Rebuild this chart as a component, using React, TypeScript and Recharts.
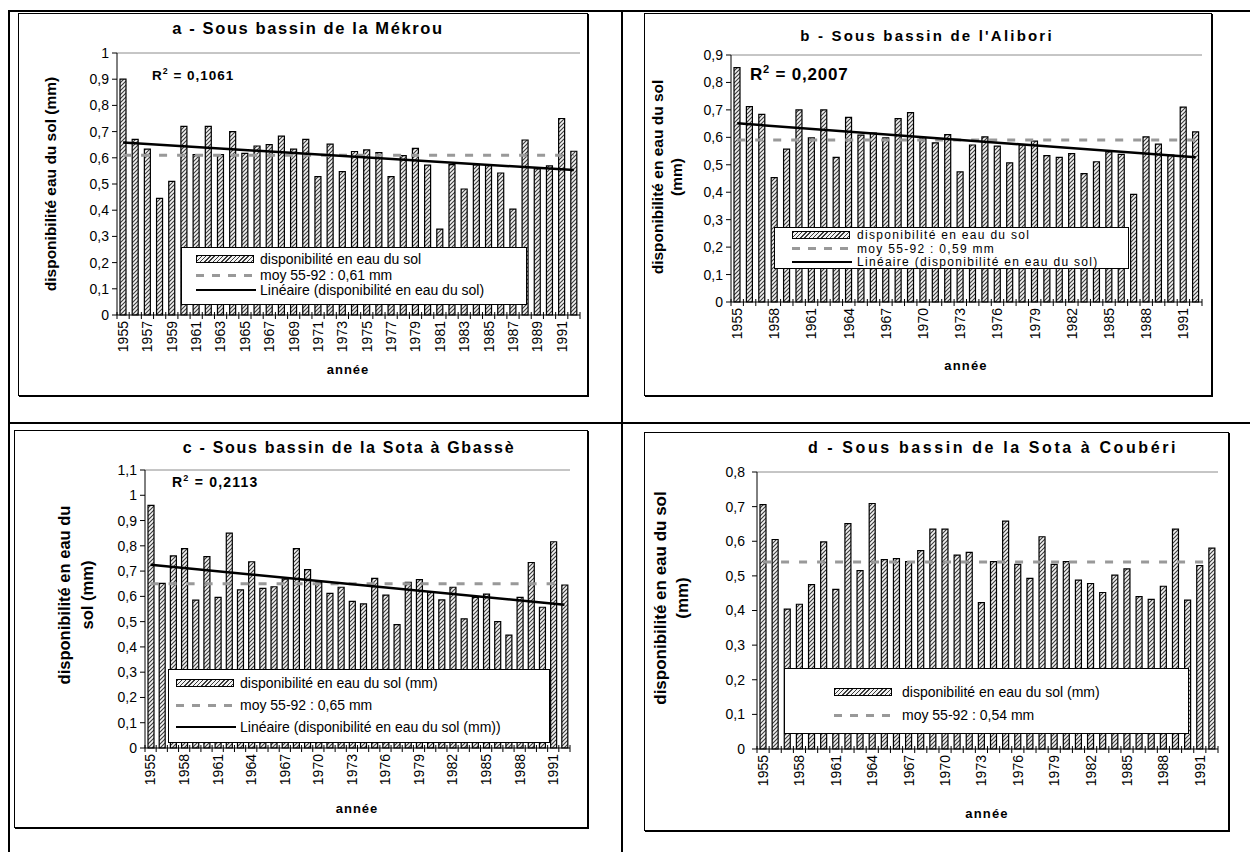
import React from 'react';
import { ComposedChart, Bar, Line, XAxis, YAxis, ReferenceLine } from 'recharts';

// années 1955-1992
const years = [
  '1955', '1956', '1957', '1958', '1959', '1960', '1961', '1962', '1963', '1964',
  '1965', '1966', '1967', '1968', '1969', '1970', '1971', '1972', '1973', '1974',
  '1975', '1976', '1977', '1978', '1979', '1980', '1981', '1982', '1983', '1984',
  '1985', '1986', '1987', '1988', '1989', '1990', '1991', '1992',
];

// disponibilité en eau du sol (mm)
const dispoMekrou = [
  0.90, 0.67, 0.633, 0.445, 0.51, 0.72, 0.612, 0.72, 0.612, 0.70,
  0.617, 0.645, 0.65, 0.683, 0.633, 0.67, 0.528, 0.652, 0.547, 0.624,
  0.63, 0.62, 0.528, 0.608, 0.636, 0.572, 0.328, 0.574, 0.481, 0.573,
  0.57, 0.542, 0.404, 0.668, 0.558, 0.569, 0.75, 0.625,
];
const dispoAlibori = [
  0.854, 0.712, 0.684, 0.453, 0.557, 0.70, 0.598, 0.70, 0.527, 0.673,
  0.608, 0.615, 0.598, 0.668, 0.69, 0.598, 0.58, 0.61, 0.474, 0.572,
  0.602, 0.568, 0.507, 0.572, 0.586, 0.533, 0.527, 0.541, 0.468, 0.511,
  0.547, 0.538, 0.392, 0.602, 0.575, 0.535, 0.71, 0.62,
];
const dispoGbasse = [
  0.96, 0.651, 0.76, 0.789, 0.585, 0.757, 0.596, 0.85, 0.626, 0.737,
  0.632, 0.638, 0.668, 0.789, 0.706, 0.655, 0.612, 0.636, 0.58, 0.57,
  0.671, 0.605, 0.488, 0.655, 0.666, 0.616, 0.586, 0.636, 0.511, 0.596,
  0.609, 0.50, 0.447, 0.596, 0.734, 0.557, 0.816, 0.645,
];
const dispoCouberi = [
  0.706, 0.605, 0.404, 0.418, 0.475, 0.598, 0.461, 0.651, 0.515, 0.709,
  0.547, 0.55, 0.541, 0.573, 0.635, 0.635, 0.56, 0.568, 0.423, 0.541,
  0.658, 0.533, 0.493, 0.613, 0.533, 0.541, 0.488, 0.478, 0.452, 0.502,
  0.52, 0.44, 0.432, 0.47, 0.635, 0.43, 0.53, 0.58,
];

// moyennes 55-92
const moyMekrou = 0.61;
const moyAlibori = 0.59;
const moyGbasse = 0.65;
const moyCouberi = 0.54;

// tendance linéaire : valeur en 1955 et en 1992
const trendMekrou = [0.658, 0.553];
const trendAlibori = [0.651, 0.527];
const trendGbasse = [0.725, 0.567];

const ticksMekrou = [0, 0.1, 0.2, 0.3, 0.4, 0.5, 0.6, 0.7, 0.8, 0.9, 1];
const ticksAlibori = [0, 0.1, 0.2, 0.3, 0.4, 0.5, 0.6, 0.7, 0.8, 0.9];
const ticksGbasse = [0, 0.1, 0.2, 0.3, 0.4, 0.5, 0.6, 0.7, 0.8, 0.9, 1, 1.1];
const ticksCouberi = [0, 0.1, 0.2, 0.3, 0.4, 0.5, 0.6, 0.7, 0.8];

const labelsOdd = ['1955', '1957', '1959', '1961', '1963', '1965', '1967', '1969', '1971', '1973',
  '1975', '1977', '1979', '1981', '1983', '1985', '1987', '1989', '1991'];
const labelsThree = ['1955', '1958', '1961', '1964', '1967', '1970', '1973', '1976', '1979', '1982',
  '1985', '1988', '1991'];

const FONT = "Arial, 'Liberation Sans', sans-serif";

const fmt = (v: number) => String(v).replace('.', ',');

const buildRows = (values: number[], moy: number, trend?: number[]) =>
  years.map((y, i) => ({
    year: y,
    dispo: values[i],
    moy,
    trend: trend ? (i === 0 ? trend[0] : i === years.length - 1 ? trend[1] : null) : null,
  }));

type Rect = { l: number; t: number; r: number; b: number };

const YearTick = (props: any) => {
  const { x, y, payload, index, step, labels, fontSize } = props;
  const show = labels.includes(payload.value);
  const ty = y + 6;
  return (
    <g>
      <line x1={x - step / 2} x2={x - step / 2} y1={y - 3} y2={y + 4} stroke="#000" />
      {index === years.length - 1 && (
        <line x1={x + step / 2} x2={x + step / 2} y1={y - 3} y2={y + 4} stroke="#000" />
      )}
      {show && (
        <text
          x={x}
          y={ty}
          transform={`rotate(-90, ${x}, ${ty})`}
          textAnchor="end"
          dy="0.35em"
          fontSize={fontSize}
          fontFamily={FONT}
          fill="#000"
        >
          {payload.value}
        </text>
      )}
    </g>
  );
};

interface PanelProps {
  id: string;
  frame: Rect;
  plot: Rect;
  values: number[];
  moy: number;
  trend?: number[];
  yTicks: number[];
  xLabels: string[];
  yTickMargin?: number;
}

const Panel = ({ id, frame, plot, values, moy, trend, yTicks, xLabels, yTickMargin = 3 }: PanelProps) => {
  const width = frame.r - frame.l;
  const height = frame.b - frame.t;
  const data = buildRows(values, moy, trend);
  const yMax = yTicks[yTicks.length - 1];
  const step = (plot.r - plot.l) / years.length;
  return (
    <div
      style={{
        position: 'absolute',
        left: frame.l,
        top: frame.t,
        width,
        height,
        boxShadow: 'inset 0 0 0 1px #000, 1px 1px 0 #000',
        background: '#fff',
      }}
    >
      <ComposedChart
        width={width}
        height={height}
        data={data}
        margin={{ top: plot.t - frame.t, right: frame.r - plot.r, bottom: 0, left: 0 }}
        barSize={6}
      >
        <defs>
          <pattern id={`${id}-hatch`} width="4" height="4" patternUnits="userSpaceOnUse">
            <rect width="4" height="4" fill="#f2f2f2" />
            <path d="M0,4 L4,0 M-1,1 L1,-1 M3,5 L5,3" stroke="#3a3a3a" strokeWidth="1.1" />
          </pattern>
        </defs>
        <XAxis
          dataKey="year"
          interval={0}
          height={frame.b - plot.b}
          tickSize={0}
          tickMargin={0}
          axisLine={{ stroke: '#000' }}
          tick={(p: any) => <YearTick {...p} step={step} labels={xLabels} fontSize={14} />}
        />
        <YAxis
          type="number"
          domain={[0, yMax]}
          ticks={yTicks}
          interval={0}
          width={plot.l - frame.l}
          tickSize={5}
          tickMargin={yTickMargin}
          tickFormatter={fmt}
          axisLine={{ stroke: '#000' }}
          tickLine={{ stroke: '#000' }}
          tick={{ fontSize: 14, fill: '#000', fontFamily: FONT }}
        />
        <YAxis
          yAxisId="border"
          orientation="right"
          type="number"
          domain={[0, yMax]}
          width={0}
          tick={false}
          tickLine={false}
          axisLine={{ stroke: '#8c8c8c' }}
        />
        <ReferenceLine y={yMax} stroke="#8c8c8c" />
        <Bar
          dataKey="dispo"
          fill={`url(#${id}-hatch)`}
          stroke="#000"
          strokeWidth={1.2}
          isAnimationActive={false}
        />
        <Line
          dataKey="moy"
          stroke="#999"
          strokeWidth={3}
          strokeDasharray="8 10"
          dot={false}
          activeDot={false}
          isAnimationActive={false}
        />
        {trend && (
          <Line
            dataKey="trend"
            stroke="#000"
            strokeWidth={2.5}
            connectNulls
            dot={false}
            activeDot={false}
            isAnimationActive={false}
          />
        )}
      </ComposedChart>
    </div>
  );
};

const abs = (x: number, y: number, extra: React.CSSProperties = {}): React.CSSProperties => ({
  position: 'absolute',
  left: x,
  top: y,
  fontFamily: FONT,
  color: '#000',
  whiteSpace: 'nowrap',
  ...extra,
});

const Centered = ({ x, y, size, spacing = 0, children }: any) => (
  <div style={abs(x, y, { transform: 'translate(-50%, -50%)', fontSize: size, fontWeight: 700, letterSpacing: spacing })}>
    {children}
  </div>
);

const YTitle = ({ x, y, size, lineHeight, spacing = 0, lines }: any) => (
  <div
    style={abs(x, y, {
      transform: 'translate(-50%, -50%) rotate(-90deg)',
      fontSize: size,
      fontWeight: 700,
      lineHeight: `${lineHeight}px`,
      letterSpacing: spacing,
      textAlign: 'center',
    })}
  >
    {lines.map((l: string) => (
      <div key={l}>{l}</div>
    ))}
  </div>
);

const R2 = ({ x, y, size, spacing = 0, value }: any) => (
  <div style={abs(x, y, { transform: 'translateY(-50%)', fontSize: size, fontWeight: 700, letterSpacing: spacing })}>
    R<sup style={{ fontSize: size * 0.65, verticalAlign: 'super', lineHeight: 0 }}>2</sup> = {value}
  </div>
);

const hatchCss = 'repeating-linear-gradient(135deg, #3a3a3a 0px, #3a3a3a 1px, #f2f2f2 1px, #f2f2f2 3px)';

const LegendBox = ({ box, symX, textX, rows, size, spacing = 0 }: any) => (
  <>
    <div
      style={{
        position: 'absolute',
        left: box.l,
        top: box.t,
        width: box.r - box.l,
        height: box.b - box.t,
        background: '#fff',
        border: '1px solid #000',
        boxSizing: 'border-box',
      }}
    />
    {rows.map((r: any) => (
      <React.Fragment key={r.label}>
        {r.kind === 'bar' && (
          <div
            style={{
              position: 'absolute',
              left: symX,
              top: r.y - 4,
              width: 58,
              height: 8,
              background: hatchCss,
              border: '1px solid #000',
              boxSizing: 'border-box',
            }}
          />
        )}
        {r.kind === 'moy' && (
          <div
            style={{
              position: 'absolute',
              left: symX,
              top: r.y - 1.5,
              width: 60,
              height: 3,
              background: 'repeating-linear-gradient(90deg, #999 0px, #999 8px, transparent 8px, transparent 16px)',
            }}
          />
        )}
        {r.kind === 'lin' && (
          <div style={{ position: 'absolute', left: symX, top: r.y - 1.25, width: 60, height: 2.5, background: '#000' }} />
        )}
        <div
          style={abs(textX, r.y, {
            transform: 'translateY(-50%)',
            fontSize: size,
            lineHeight: 1,
            letterSpacing: spacing,
          })}
        >
          {r.label}
        </div>
      </React.Fragment>
    ))}
  </>
);

const App = () => {
  return (
    <div style={{ position: 'absolute', left: 0, top: 0, width: 1250, height: 852, background: '#fff', overflow: 'hidden' }}>
      {/* cadre du tableau */}
      <div style={{ position: 'absolute', left: 8, top: 10, width: 1242, height: 2, background: '#000' }} />
      <div style={{ position: 'absolute', left: 8, top: 10, width: 2, height: 842, background: '#000' }} />
      <div style={{ position: 'absolute', left: 8, top: 422, width: 1242, height: 2, background: '#000' }} />
      <div style={{ position: 'absolute', left: 621, top: 10, width: 2, height: 842, background: '#000' }} />

      <Panel
        id="a"
        frame={{ l: 18, t: 13, r: 588, b: 396 }}
        plot={{ l: 117, t: 53, r: 580, b: 315 }}
        values={dispoMekrou}
        moy={moyMekrou}
        trend={trendMekrou}
        yTicks={ticksMekrou}
        xLabels={labelsOdd}
      />
      <Panel
        id="b"
        frame={{ l: 644, t: 13, r: 1212, b: 396 }}
        plot={{ l: 731, t: 55, r: 1202, b: 302 }}
        values={dispoAlibori}
        moy={moyAlibori}
        trend={trendAlibori}
        yTicks={ticksAlibori}
        xLabels={labelsThree}
      />
      <Panel
        id="c"
        frame={{ l: 14, t: 430, r: 588, b: 828 }}
        plot={{ l: 145, t: 470, r: 570, b: 748 }}
        values={dispoGbasse}
        moy={moyGbasse}
        trend={trendGbasse}
        yTicks={ticksGbasse}
        xLabels={labelsThree}
      />
      <Panel
        id="d"
        frame={{ l: 644, t: 432, r: 1229, b: 831 }}
        plot={{ l: 757, t: 472, r: 1218, b: 749 }}
        values={dispoCouberi}
        moy={moyCouberi}
        yTicks={ticksCouberi}
        xLabels={labelsThree}
        yTickMargin={7}
      />

      {/* titres */}
      <Centered x={308} y={28} size={16.5} spacing={1.6}>a - Sous bassin de la Mékrou</Centered>
      <Centered x={927} y={35} size={15} spacing={2.2}>b - Sous bassin de l'Alibori</Centered>
      <Centered x={349} y={448} size={16} spacing={1.7}>c - Sous bassin de la Sota à Gbassè</Centered>
      <Centered x={993} y={448} size={16} spacing={2.6}>d - Sous bassin de la Sota à Coubéri</Centered>

      {/* axes */}
      <YTitle x={50} y={184} size={15.5} lineHeight={17} lines={['disponibilité eau du sol (mm)']} />
      <YTitle x={667} y={177} size={15.5} lineHeight={19} lines={['disponibilité en eau du sol', '(mm)']} />
      <YTitle x={76} y={595} size={16.5} lineHeight={23} lines={['disponibilité en eau du', 'sol (mm)']} />
      <YTitle x={672} y={598} size={17} lineHeight={22} lines={['disponibilité en eau du sol', '(mm)']} />

      <Centered x={348} y={369} size={13} spacing={1}>année</Centered>
      <Centered x={966} y={365} size={13} spacing={1.2}>année</Centered>
      <Centered x={357} y={808} size={13} spacing={1}>année</Centered>
      <Centered x={987} y={813} size={13} spacing={1.2}>année</Centered>

      <R2 x={152} y={75} size={13.5} spacing={1} value="0,1061" />
      <R2 x={750} y={75} size={17} spacing={0.8} value="0,2007" />
      <R2 x={172} y={482} size={14} spacing={1.2} value="0,2113" />

      {/* légendes */}
      <LegendBox
        box={{ l: 181, t: 247, r: 527, b: 305 }}
        symX={196}
        textX={260}
        size={14}
        rows={[
          { kind: 'bar', y: 259, label: 'disponibilité en eau du sol' },
          { kind: 'moy', y: 275, label: 'moy 55-92 : 0,61 mm' },
          { kind: 'lin', y: 290, label: 'Linéaire (disponibilité en eau du sol)' },
        ]}
      />
      <LegendBox
        box={{ l: 774, t: 227, r: 1129, b: 269 }}
        symX={792}
        textX={857}
        size={12}
        spacing={1.3}
        rows={[
          { kind: 'bar', y: 235, label: 'disponibilité en eau du sol' },
          { kind: 'moy', y: 248.5, label: 'moy 55-92 : 0,59 mm' },
          { kind: 'lin', y: 262, label: 'Linéaire (disponibilité en eau du sol)' },
        ]}
      />
      <LegendBox
        box={{ l: 168, t: 669, r: 550, b: 743 }}
        symX={176}
        textX={240}
        size={14}
        rows={[
          { kind: 'bar', y: 683, label: 'disponibilité en eau du sol (mm)' },
          { kind: 'moy', y: 705, label: 'moy 55-92 : 0,65 mm' },
          { kind: 'lin', y: 727, label: 'Linéaire (disponibilité en eau du sol (mm))' },
        ]}
      />
      <LegendBox
        box={{ l: 784, t: 668, r: 1189, b: 734 }}
        symX={834}
        textX={902}
        size={14}
        rows={[
          { kind: 'bar', y: 692, label: 'disponibilité en eau du sol (mm)' },
          { kind: 'moy', y: 715, label: 'moy 55-92 : 0,54 mm' },
        ]}
      />
    </div>
  );
};

export default App;
